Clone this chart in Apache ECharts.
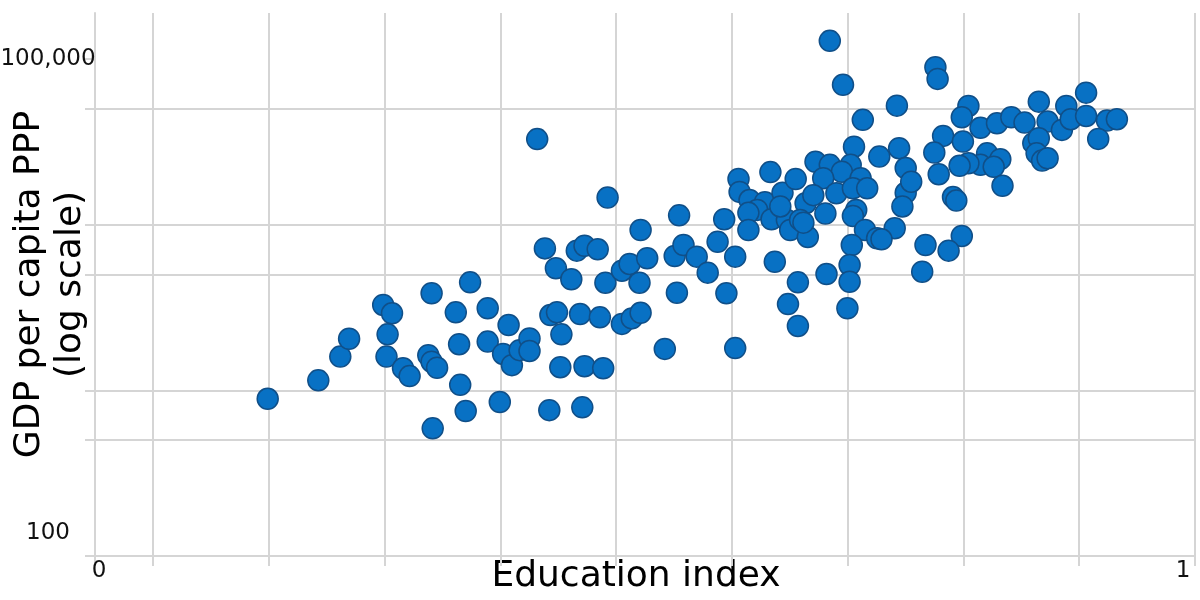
<!DOCTYPE html>
<html>
<head>
<meta charset="utf-8">
<script src="https://cdn.jsdelivr.net/npm/echarts@6/dist/echarts.min.js"></script>
<style>
html,body{margin:0;padding:0;background:#fff;}
#chart{width:1200px;height:600px;}
</style>
</head>
<body>
<div id="chart"></div>
<script>
const educationIndex = [
  0.157,0.203,0.223,0.231,0.262,0.270,0.266,0.265,0.280,0.286,0.306,0.341,0.328,0.357,0.376,0.331,0.357,0.303,0.306,0.311,0.371,0.379,0.386,0.395,0.395,0.332,0.337,0.368,0.307,
  0.402,0.466,0.531,0.572,0.496,0.409,0.438,0.445,0.457,0.419,0.433,0.464,0.479,0.486,0.502,0.495,0.527,0.535,0.547,0.557,0.566,0.582,0.618,0.639,0.529,0.574,0.630,0.639,0.518,0.582,0.414,0.420,0.441,0.459,0.479,0.488,0.496,0.424,0.423,0.445,0.462,0.413,0.443,
  0.585,0.586,0.595,0.609,0.602,0.594,0.594,0.615,0.625,0.629,0.632,0.646,0.648,0.614,0.637,0.655,0.690,0.731,0.713,0.668,0.687,0.679,0.662,0.696,0.737,0.653,0.674,0.689,0.702,0.737,0.623,0.734,0.692,0.664,0.689,0.641,0.644,0.700,0.711,0.727,0.688,0.686,0.665,0.686,0.684,
  0.668,0.680,0.729,0.698,
  0.764,0.766,0.794,0.788,0.805,0.820,0.833,0.845,0.858,0.866,0.879,0.883,0.887,0.901,0.901,0.920,0.929,0.912,0.771,0.789,0.763,0.853,0.858,0.856,0.861,0.866,0.811,0.823,0.805,0.794,0.786,0.817,0.767,0.825,0.742,0.780,0.783,0.715,0.788,0.755,0.776,0.752
];
const gdpPerCapitaPPP = [
  890,1150,1600,2050,3280,2920,2180,1600,1360,1220,3860,4490,2960,3130,2480,1900,1970,1630,1490,1370,1660,1420,1750,2060,1730,1080,750,850,590,
  32900,14600,11400,10800,9300,7200,6980,7470,7110,5460,4690,4470,5280,5800,6280,4470,6480,7550,6420,5140,7900,6420,5980,4490,3890,3860,3320,2450,1780,1800,2850,2960,2890,2760,2520,2720,2940,2180,1380,1400,1360,760,790,
  18900,15800,14100,13700,12300,11800,9300,10800,15600,10700,9300,13500,8440,20800,18900,24000,29600,29000,25800,23000,23000,20900,19100,19100,22000,15100,15500,16600,16600,15600,12900,12900,12300,11700,11300,10700,10300,9300,8290,9530,7550,5720,5040,4530,3130,
  129000,70000,52400,43000,
  89500,76000,52200,44600,38500,41000,44600,41400,55400,42000,37400,52200,43400,62800,45400,42600,43400,33000,34400,31800,27300,31100,33300,27000,24400,25200,27000,24900,23000,23500,22700,22400,20200,17200,18200,14700,14000,8170,8560,7550,6980,5210
];
const yTickValues = [100, 500, 1000, 5000, 10000, 50000, 100000];
const yLabelValues = [100, 100000];
const xLabelValues = [0, 1];

const points = educationIndex.map((x, i) => [x, gdpPerCapitaPPP[i]]);
const gridColor = '#d5d5d5';
const font = 'DejaVu Sans';

const chart = echarts.init(document.getElementById('chart'), null, {renderer: 'canvas'});
chart.setOption({
  animation: false,
  backgroundColor: '#ffffff',
  grid: {left: 95, right: 5, top: 13, bottom: 44, containLabel: false, outerBoundsMode: 'none'},
  xAxis: [
    {
      type: 'value', position: 'bottom', min: 0, max: 1, interval: 1,
      axisLine: {show: true, lineStyle: {color: gridColor, width: 2}},
      axisTick: {show: false},
      splitLine: {show: false},
      axisLabel: {
        show: true, margin: 4, fontFamily: font, fontSize: 23, color: '#111',
        customValues: xLabelValues,
        formatter: v => v === 0 ? '{a|0}' : '{b|1}',
        rich: {
          a: {fontFamily: font, fontSize: 23, color: '#111', padding: [0, 0, 0, 8]},
          b: {fontFamily: font, fontSize: 23, color: '#111', padding: [0, 24, 0, 0]}
        }
      },
      name: 'Education index', nameLocation: 'middle', nameGap: 3, nameMoveOverlap: false,
      nameTextStyle: {fontFamily: font, fontSize: 36, color: '#000', padding: [0, 18, 0, 0], verticalAlign: 'top'}
    },
    {
      type: 'value', position: 'bottom', min: 0, max: 9.5, interval: 1, inverse: true,
      axisLine: {show: false},
      axisTick: {show: true, length: 10, lineStyle: {color: gridColor, width: 2}},
      axisLabel: {show: false},
      splitLine: {show: true, lineStyle: {color: gridColor, width: 2}}
    }
  ],
  yAxis: {
    type: 'log', logBase: 10, min: 100, max: 190000,
    axisLine: {show: true, lineStyle: {color: gridColor, width: 2}},
    axisTick: {show: true, length: 10, customValues: yTickValues, lineStyle: {color: gridColor, width: 2}},
    splitLine: {show: true, showMinLine: true, showMaxLine: false, lineStyle: {color: gridColor, width: 2}},
    axisLabel: {
      customValues: yLabelValues,
      margin: 47, align: 'center', fontFamily: font, fontSize: 23, color: '#111', lineHeight: 46,
      formatter: v => v >= 99999 ? '100,000' : '100\n'
    },
    name: 'GDP per capita PPP\n(log scale)', nameLocation: 'middle', nameRotate: 90, nameGap: 4, nameMoveOverlap: false,
    nameTextStyle: {fontFamily: font, fontSize: 36, color: '#000', lineHeight: 41, padding: [6, 0, 0, 0]}
  },
  series: [{
    type: 'scatter',
    xAxisIndex: 0,
    data: points,
    symbol: 'circle',
    symbolSize: 21,
    itemStyle: {color: '#0871c4', borderColor: '#104f88', borderWidth: 1.5, opacity: 1}
  }]
});
</script>
</body>
</html>
